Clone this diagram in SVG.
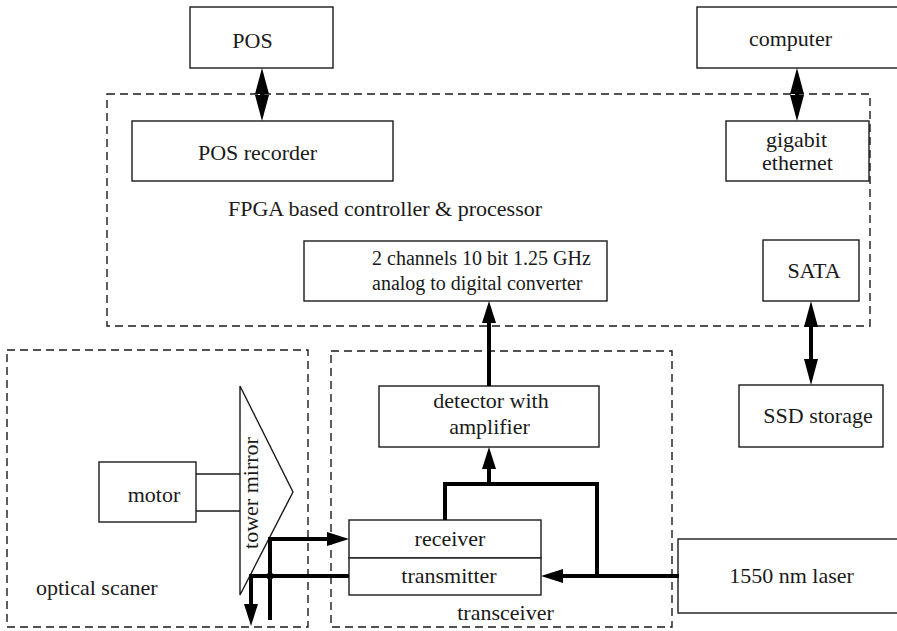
<svg xmlns="http://www.w3.org/2000/svg" width="897" height="631" viewBox="0 0 897 631">
<style>
.box{fill:#fff;stroke:#1a1a1a;stroke-width:1.4}
.dash{fill:none;stroke:#1a1a1a;stroke-width:1.4;stroke-dasharray:8 5}
.thin{fill:none;stroke:#1a1a1a;stroke-width:1.3}
.wire{fill:none;stroke:#000;stroke-width:4}
text{font-family:"Liberation Serif","Times New Roman",serif;font-size:22px;fill:#1a1a1a}
.c{text-anchor:middle}
.s20{font-size:20px}
</style>
<defs>
<marker id="ah" markerUnits="userSpaceOnUse" markerWidth="24" markerHeight="16" refX="8" refY="7" orient="auto"><path d="M0,0 L22,7 L0,14 Z" fill="#000"/></marker>
<marker id="dh" markerUnits="userSpaceOnUse" markerWidth="28" markerHeight="16" refX="10" refY="7" orient="auto-start-reverse"><path d="M0,0 L26,7 L0,14 Z" fill="#000"/></marker>
</defs>
<rect width="897" height="631" fill="#fff"/>

<g id="fpga-group">
<rect class="dash" x="107" y="94" width="763" height="232"/>
<text x="385" y="216" class="c">FPGA based controller &amp; processor</text>
</g>
<g id="optical-scanner-group">
<rect class="dash" x="7" y="350" width="301" height="277"/>
<text x="36" y="595">optical scaner</text>
</g>
<g id="transceiver-group">
<rect class="dash" x="331" y="351" width="341" height="276"/>
<text x="505.5" y="620" class="c">transceiver</text>
</g>

<g id="pos"><rect class="box" x="190" y="7" width="143" height="61"/><text x="252.5" y="48" class="c">POS</text></g>
<g id="pos-recorder"><rect class="box" x="132" y="121" width="261" height="60"/><text x="257.5" y="160" class="c">POS recorder</text></g>
<g id="computer"><rect class="box" x="697" y="7" width="204" height="61"/><text x="790.5" y="46" class="c">computer</text></g>
<g id="gigabit-ethernet"><rect class="box" x="726" y="121" width="143" height="60"/><text x="796.5" y="147" class="c">gigabit</text><text x="797.5" y="170" class="c">ethernet</text></g>
<g id="adc"><rect class="box" x="304" y="241" width="303" height="60"/><text x="372" y="265" class="s20">2 channels 10 bit 1.25 GHz</text><text x="372" y="290" class="s20">analog to digital converter</text></g>
<g id="sata"><rect class="box" x="763" y="240" width="96" height="61"/><text x="814" y="278" class="c">SATA</text></g>
<g id="ssd"><rect class="box" x="739" y="385" width="144" height="62"/><text x="818" y="423" class="c">SSD storage</text></g>
<g id="detector"><rect class="box" x="379" y="386" width="220" height="61"/><text x="491" y="408" class="c">detector with</text><text x="489.5" y="434" class="c">amplifier</text></g>
<g id="motor"><rect class="box" x="99" y="462" width="97" height="60"/><text x="154" y="502" class="c">motor</text>
<line class="thin" x1="196" y1="474" x2="240" y2="474"/><line class="thin" x1="196" y1="511" x2="240" y2="511"/></g>
<g id="tower-mirror"><polygon class="box" points="240,386 293,492 240,595"/><text transform="translate(258,493) rotate(-90)" class="c">tower mirror</text></g>
<g id="receiver"><rect class="box" x="349" y="520" width="192" height="38"/><text x="450" y="546" class="c">receiver</text></g>
<g id="transmitter"><rect class="box" x="349" y="558" width="192" height="37"/><text x="449" y="583" class="c">transmitter</text></g>
<g id="laser"><rect class="box" x="678" y="539" width="223" height="74"/><text x="791.5" y="583" class="c">1550 nm laser</text></g>

<g id="connectors">
<line class="wire" x1="262" y1="84" x2="262" y2="105" marker-start="url(#dh)" marker-end="url(#dh)"/>
<line class="wire" x1="797" y1="84" x2="797" y2="105" marker-start="url(#dh)" marker-end="url(#dh)"/>
<line class="wire" x1="811" y1="317" x2="811" y2="369" marker-start="url(#dh)" marker-end="url(#dh)"/>
<line class="wire" x1="489" y1="386" x2="489" y2="315" marker-end="url(#ah)"/>
<path class="wire" d="M445,520 V484 H597 V576"/>
<line class="wire" x1="489" y1="484" x2="489" y2="461" marker-end="url(#ah)"/>
<line class="wire" x1="679" y1="576" x2="555" y2="576" marker-end="url(#ah)"/>
<line class="wire" x1="269" y1="539" x2="335" y2="539" marker-end="url(#ah)"/>
<line class="wire" x1="270" y1="537" x2="270" y2="620"/>
<path class="wire" d="M349,576 H251 V612" marker-end="url(#ah)"/>
<circle cx="270" cy="576" r="3.5" fill="#000"/>
</g>
</svg>
